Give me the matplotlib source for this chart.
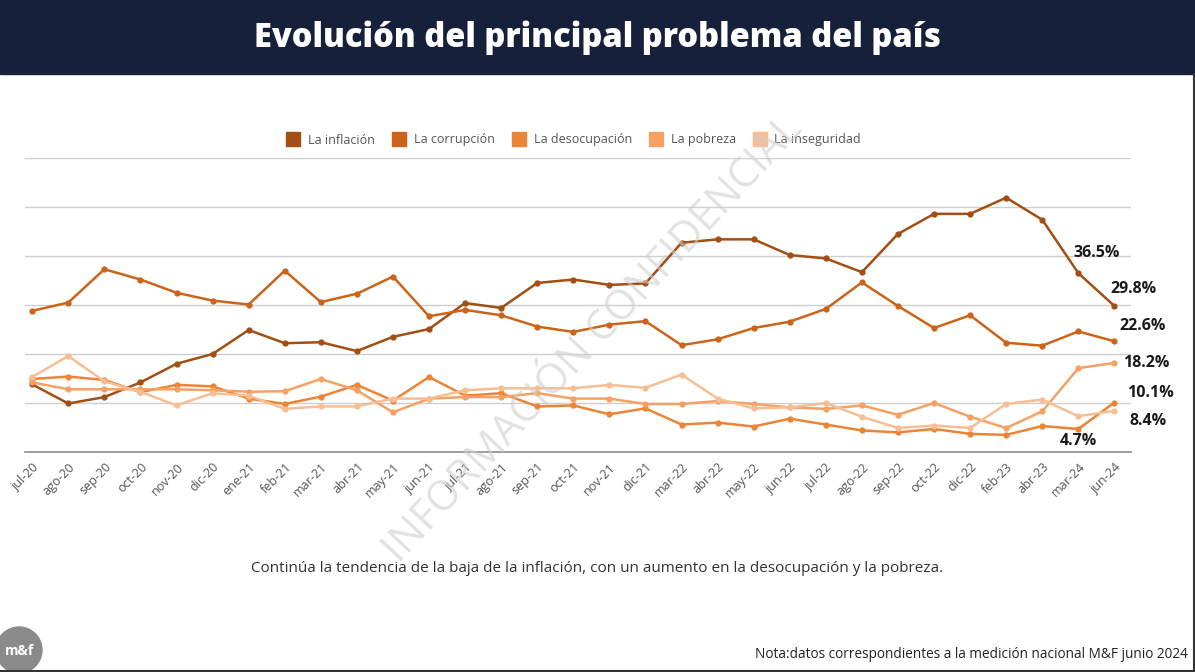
import matplotlib.pyplot as plt
from matplotlib.patches import Rectangle, Ellipse
from matplotlib.lines import Line2D

# meses de medición
meses = ['jul-20', 'ago-20', 'sep-20', 'oct-20', 'nov-20', 'dic-20', 'ene-21', 'feb-21',
         'mar-21', 'abr-21', 'may-21', 'jun-21', 'jul-21', 'ago-21', 'sep-21', 'oct-21',
         'nov-21', 'dic-21', 'mar-22', 'abr-22', 'may-22', 'jun-22', 'jul-22', 'ago-22',
         'sep-22', 'oct-22', 'dic-22', 'feb-23', 'abr-23', 'mar-24', 'jun-24']

inflacion = [13.8, 9.9, 11.2, 14.2, 18.0, 20.0, 24.9, 22.2, 22.4, 20.6, 23.5, 25.1, 30.4, 29.4,
             34.5, 35.2, 34.1, 34.4, 42.7, 43.4, 43.4, 40.2, 39.5, 36.7, 44.5, 48.6, 48.6, 51.9,
             47.4, 36.5, 29.8]
corrupcion = [28.8, 30.5, 37.3, 35.2, 32.5, 30.9, 30.1, 37.0, 30.6, 32.3, 35.8, 27.7, 29.0, 27.9,
              25.6, 24.5, 26.0, 26.7, 21.8, 23.0, 25.3, 26.6, 29.2, 34.6, 29.8, 25.3, 27.9, 22.3,
              21.7, 24.6, 22.6]
desocupacion = [14.9, 15.4, 14.7, 12.2, 13.7, 13.4, 10.9, 9.8, 11.3, 13.7, 10.5, 15.3, 11.5, 12.0,
                9.3, 9.5, 7.7, 8.9, 5.6, 6.0, 5.2, 6.8, 5.6, 4.4, 4.0, 4.7, 3.7, 3.5, 5.3, 4.7, 10.1]
pobreza = [14.2, 12.8, 12.8, 12.8, 12.8, 12.6, 12.3, 12.4, 14.9, 12.6, 8.1, 10.9, 11.2, 11.2,
           12.0, 10.9, 10.9, 9.8, 9.8, 10.4, 9.8, 9.1, 8.8, 9.5, 7.6, 10.0, 7.2, 4.9, 8.3, 17.1, 18.2]
inseguridad = [15.3, 19.6, 14.4, 12.3, 9.5, 12.0, 11.5, 8.8, 9.3, 9.3, 10.9, 10.9, 12.6, 13.0,
               13.0, 13.0, 13.7, 13.1, 15.8, 10.9, 8.9, 9.1, 10.0, 7.2, 4.9, 5.4, 4.9, 9.8, 10.7,
               7.3, 8.4]

nombres = ['La inflación', 'La corrupción', 'La desocupación', 'La pobreza', 'La inseguridad']
colores = ['#A34E12', '#CB6419', '#EC8436', '#F5A163', '#F8BE93']
series = [inflacion, corrupcion, desocupacion, pobreza, inseguridad]

# etiquetas finales: (serie, indice, texto, dx, dy en px)
etiquetas = [(0, 29, '36.5%', 18, 20), (0, 30, '29.8%', 19, 17), (1, 30, '22.6%', 28, 15),
             (3, 30, '18.2%', 32, 0), (2, 30, '10.1%', 36, 10), (4, 30, '8.4%', 34, -10),
             (2, 29, '4.7%', 0, -12)]

plt.rcParams['font.family'] = ['Open Sans', 'DejaVu Sans']
plt.rcParams['font.stretch'] = 'normal'

W, H = 1195, 672
fig = plt.figure(figsize=(W / 100, H / 100), dpi=100)

# barra de título
fig.patches.append(Rectangle((0, 1 - 74 / H), 1, 74 / H, transform=fig.transFigure,
                             color='#16203B', zorder=0))
fig.text(0.5, 1 - 38 / H, 'Evolución del principal problema del país', ha='center', va='center',
         color='white', fontsize=23.5, fontweight='heavy', fontstretch='normal')

ax = fig.add_axes([25 / W, (H - 452) / H, (1131 - 25) / W, (452 - 158) / H])
x = list(range(len(meses)))
for s, c, n in zip(series, colores, nombres):
    ax.plot(x, s, color=c, lw=1.8, marker='o', ms=3.5, label=n, zorder=3)

ax.set_ylim(0, 60)
ax.set_xlim(-0.2, 30.46)
ax.set_yticks([10, 20, 30, 40, 50, 60])
ax.yaxis.grid(True, color='#CFCFCF', lw=1)
ax.set_axisbelow(True)
ax.tick_params(axis='y', left=False, labelleft=False)
for sp in ['top', 'right', 'left']:
    ax.spines[sp].set_visible(False)
ax.spines['bottom'].set_color('#8C8C8C')
ax.spines['bottom'].set_linewidth(1.2)
ax.set_xticks(x)
ax.set_xticklabels(meses, rotation=45, ha='right', rotation_mode='anchor', fontsize=9,
                   color='#555555')
ax.tick_params(axis='x', length=0, pad=6)

for si, idx, txt, dx, dy in etiquetas:
    ax.annotate(txt, (idx, series[si][idx]), xytext=(dx, dy), textcoords='offset pixels',
                ha='center', va='center', fontsize=11.5, fontweight='bold',
                fontstretch='normal', color='#1A1A1A')

handles = [Line2D([], [], marker='s', ls='none', color=c, ms=10) for c in colores]
fig.legend(handles, nombres, loc='center', bbox_to_anchor=(571 / W, 1 - 140 / H),
           ncol=5, frameon=False, fontsize=9, handletextpad=0.2, columnspacing=0.9,
           labelcolor='#555555')

# marca de agua
fig.text(593 / W, 1 - 340 / H, 'INFORMACIÓN CONFIDENCIAL', ha='center', va='center',
         rotation=47, fontsize=30, color='#CFCFCF', alpha=0.6, zorder=10)

fig.text(597 / W, 1 - 569 / H,
         'Continúa la tendencia de la baja de la inflación, con un aumento en la desocupación y la pobreza.',
         ha='center', va='center', fontsize=11, color='#333333')
fig.text(1188 / W, 1 - 655 / H,
         'Nota:datos correspondientes a la medición nacional M&F junio 2024',
         ha='right', va='center', fontsize=9.8, color='#222222')

# logo
fig.patches.append(Ellipse((19 / W, 1 - 650 / H), 46 / W, 46 / H, transform=fig.transFigure,
                           color='#8A8A8A', zorder=1))
fig.text(19 / W, 1 - 651 / H, 'm&f', ha='center', va='center', color='white',
         fontsize=10, fontweight='bold')

# borde inferior y derecho
fig.add_artist(Line2D([0, 1], [1 / H, 1 / H], color='#333333', lw=1.5, transform=fig.transFigure))
fig.add_artist(Line2D([1 - 1 / W, 1 - 1 / W], [0, 1 - 74 / H], color='#333333', lw=1.5,
                      transform=fig.transFigure))

fig.savefig('out.png', dpi=100)
